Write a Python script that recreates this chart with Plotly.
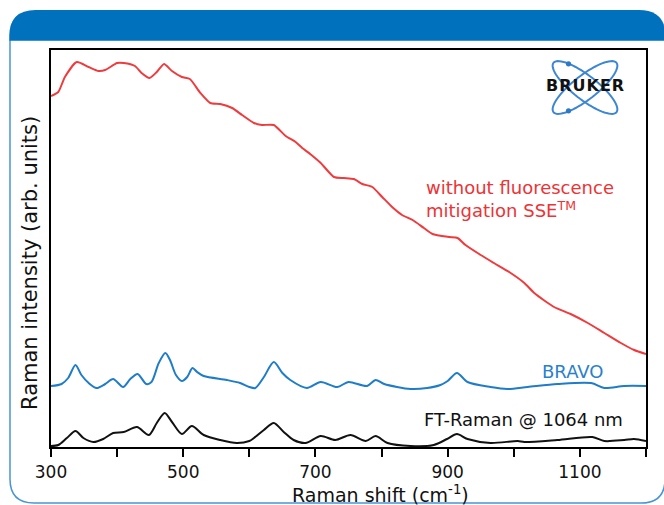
import math
import plotly.graph_objects as go

# ---------------- data ----------------
red_x = [300, 311, 321, 339, 357, 372, 382, 400, 410, 427, 437, 449, 460, 471, 483, 498, 510, 526,
         541, 556, 574, 589, 607, 619, 637, 655, 670, 680, 692, 708, 728, 743, 758, 771, 786, 801,
         816, 831, 847, 864, 877, 902, 915, 927, 950, 970, 993, 1016, 1031, 1061, 1086, 1112, 1137,
         1162, 1182, 1200]
red_y = [351, 355, 370, 385, 380, 376, 377, 384, 384, 381, 374, 369, 375, 383, 376, 370, 368, 354,
         344, 343, 339, 332, 324, 322, 322, 311, 305, 299, 293, 284, 270, 269, 268, 263, 260, 250,
         240, 232, 227, 219, 213, 210, 209, 202, 192, 184, 175, 164, 154, 140, 133, 124, 114,
         104, 97, 93]

blue_x = [300, 316, 326, 337, 346, 357, 369, 382, 394, 409, 420, 431, 444, 452, 463, 473, 480, 489,
          498, 506, 514, 521, 531, 566, 586, 600, 609, 622, 637, 650, 662, 687, 708, 733, 750, 778,
          791, 804, 844, 869, 889, 900, 914, 930, 965, 990, 1021, 1066, 1117, 1137, 1167, 1200]
blue_y = [61, 63, 69, 82, 72, 64, 59, 63, 68, 60, 68, 73, 63, 65, 84, 94, 87, 72,
          66, 70, 79, 75, 71, 67, 64, 60, 59, 70, 85, 74, 67, 59, 65, 60, 65, 61,
          67, 63, 58, 59, 62, 66, 74, 65, 60, 58, 60, 63, 64, 59, 61, 61]

black_x = [300, 311, 324, 337, 349, 364, 379, 394, 410, 430, 448, 460, 472, 483, 498, 513, 531, 556,
           581, 600, 607, 622, 637, 652, 667, 685, 708, 730, 753, 776, 791, 809, 844, 879, 899, 914,
           930, 965, 1006, 1016, 1066, 1119, 1137, 1167, 1182, 1200]
black_y = [1, 2, 9, 16, 9, 5, 8, 14, 15, 20, 12, 24, 34, 25, 13, 21, 12, 7,
           4, 6, 9, 17, 24, 15, 7, 4, 11, 7, 12, 6, 11, 4, 1, 2, 8, 13,
           8, 4, 6, 5, 7, 10, 6, 7, 8, 6]

tick_vals = [300, 500, 700, 900, 1100]
tick_text = ["300", "500", "700", "900", "1100"]

# ---------------- layout helpers ----------------
W, H = 664, 505
L, R, T, B = 51, 646, 50, 447
FONT = "DejaVu Sans"


def P(px, py):
    return ((px - L) / (R - L), (B - py) / (B - T))


def fmt(px, py):
    x, y = P(px, py)
    return f"{x:.5f},{y:.5f}"


def rounded_rect(x0, y0, x1, y1, r):
    return (f"M {fmt(x0 + r, y0)} L {fmt(x1 - r, y0)} Q {fmt(x1, y0)} {fmt(x1, y0 + r)} "
            f"L {fmt(x1, y1 - r)} Q {fmt(x1, y1)} {fmt(x1 - r, y1)} "
            f"L {fmt(x0 + r, y1)} Q {fmt(x0, y1)} {fmt(x0, y1 - r)} "
            f"L {fmt(x0, y0 + r)} Q {fmt(x0, y0)} {fmt(x0 + r, y0)} Z")


def top_band(x0, y0, x1, y1, r):
    return (f"M {fmt(x0, y1)} L {fmt(x0, y0 + r)} Q {fmt(x0, y0)} {fmt(x0 + r, y0)} "
            f"L {fmt(x1 - r, y0)} Q {fmt(x1, y0)} {fmt(x1, y0 + r)} L {fmt(x1, y1)} Z")


def ellipse_path(cx, cy, a, b, ang_deg, n=72):
    th = math.radians(ang_deg)
    pts = []
    for i in range(n):
        t = 2 * math.pi * i / n
        ex, ey = a * math.cos(t), b * math.sin(t)
        px = cx + ex * math.cos(th) - ey * math.sin(th)
        py = cy - (ex * math.sin(th) + ey * math.cos(th))
        pts.append(fmt(px, py))
    return "M " + " L ".join(pts) + " Z"


def circle_shape(cx, cy, rad, color):
    x0, y0 = P(cx - rad, cy + rad)
    x1, y1 = P(cx + rad, cy - rad)
    return dict(type="circle", xref="paper", yref="paper", x0=x0, y0=y0, x1=x1, y1=y1,
                fillcolor=color, line=dict(width=0), layer="above")


# ---------------- figure ----------------
fig = go.Figure()
fig.add_trace(go.Scatter(x=red_x, y=red_y, mode="lines", name="without fluorescence mitigation",
                         line=dict(color="#ef3b3d", width=2, shape="spline", smoothing=0.6),
                         showlegend=False))
fig.add_trace(go.Scatter(x=blue_x, y=blue_y, mode="lines", name="BRAVO",
                         line=dict(color="#1f7cc8", width=2, shape="spline", smoothing=0.8),
                         showlegend=False))
fig.add_trace(go.Scatter(x=black_x, y=black_y, mode="lines", name="FT-Raman @ 1064 nm",
                         line=dict(color="#111111", width=2, shape="spline", smoothing=0.8),
                         showlegend=False))

shapes = [
    dict(type="path", xref="paper", yref="paper", path=rounded_rect(10, 12, 665, 503, 24),
         fillcolor="white", line=dict(color="#4a94d6", width=1.5), layer="below"),
    dict(type="path", xref="paper", yref="paper", path=top_band(9.5, 10, 665, 40.7, 26),
         fillcolor="#0071bc", line=dict(width=0), layer="above"),
    # logo
    dict(type="path", xref="paper", yref="paper", path=ellipse_path(585, 87.5, 40, 12, 38),
         line=dict(color="#3d86d3", width=2), layer="above"),
    dict(type="path", xref="paper", yref="paper", path=ellipse_path(585, 87.5, 40, 12, -38),
         line=dict(color="#3d86d3", width=2), layer="above"),
    circle_shape(568.5, 63.8, 2.6, "#2f78c8"),
    circle_shape(568.5, 110.8, 2.6, "#2f78c8"),
]

annotations = [
    dict(text="without fluorescence<br>mitigation SSE<sup>TM</sup>", xref="paper", yref="paper",
         x=P(425, 0)[0], y=P(0, 199)[1], xanchor="left", yanchor="middle", align="left",
         showarrow=False, borderpad=0, font=dict(family=FONT, size=18, color="#ec3336")),
    dict(text="BRAVO", xref="paper", yref="paper", x=P(572, 0)[0], y=P(0, 371.5)[1],
         xanchor="center", yanchor="middle", showarrow=False, borderpad=0,
         font=dict(family=FONT, size=18, color="#2a80cc")),
    dict(text="FT-Raman @ 1064 nm", xref="paper", yref="paper", x=P(624, 0)[0], y=P(0, 419)[1],
         xanchor="right", yanchor="middle", showarrow=False, borderpad=0,
         font=dict(family=FONT, size=18, color="#111111")),
    dict(text='<span style="letter-spacing:1px"><b>BRUKER</b></span>', xref="paper", yref="paper",
         x=P(585, 0)[0], y=P(0, 86)[1], xanchor="center", yanchor="middle", showarrow=False,
         borderpad=0, font=dict(family=FONT, size=16, color="#111111")),
    # axis titles
    dict(text="Raman shift (cm<sup>-1</sup>)", xref="paper", yref="paper",
         x=P(380, 0)[0], y=P(0, 494)[1], xanchor="center", yanchor="middle", showarrow=False,
         borderpad=0, font=dict(family=FONT, size=19, color="#111111")),
    dict(text="Raman intensity (arb. units)", xref="paper", yref="paper", textangle=-90,
         x=P(30, 0)[0], y=P(0, 263)[1], xanchor="center", yanchor="middle", showarrow=False,
         borderpad=0, font=dict(family=FONT, size=21, color="#111111")),
]

fig.update_layout(
    width=W, height=H,
    margin=dict(l=L, r=W - R, t=T, b=H - B),
    paper_bgcolor="white", plot_bgcolor="white",
    shapes=shapes, annotations=annotations,
    font=dict(family=FONT, color="#111111"),
    xaxis=dict(range=[300, 1200], tickvals=tick_vals, ticktext=tick_text,
               ticks="outside", ticklen=8, tickwidth=2, tickcolor="black",
               ticklabelstandoff=1,
               minor=dict(dtick=100, tick0=300, ticks="outside", ticklen=8, tickwidth=2,
                          tickcolor="black", showgrid=False),
               showline=True, linecolor="black", linewidth=2, mirror=True,
               showgrid=False, zeroline=False, tickfont=dict(family=FONT, size=17, color="#111111")),
    yaxis=dict(range=[0, 397], showticklabels=False, ticks="",
               showline=True, linecolor="black", linewidth=2, mirror=True,
               showgrid=False, zeroline=False),
)

fig.write_html("out.html", config={"displayModeBar": False},
               post_script="document.body.style.margin='0px';")
